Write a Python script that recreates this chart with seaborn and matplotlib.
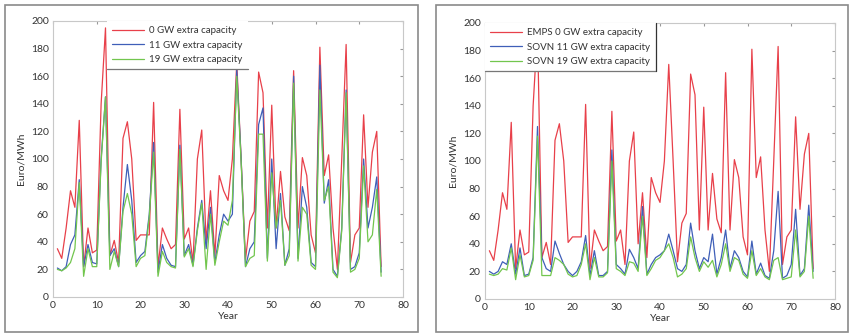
import numpy as np
import pandas as pd
import seaborn as sns
import matplotlib.pyplot as plt
from matplotlib.patches import Rectangle
from matplotlib.lines import Line2D

sns.set_style("white")
plt.rcParams['font.family'] = ['Lato', 'DejaVu Sans']

years = list(range(1, 76))

emps_0gw = [35, 28, 50, 77, 65, 128, 22, 50, 32, 34, 140, 195, 30, 41, 25,
            115, 127, 100, 41, 45, 45, 45, 141, 22, 50, 42, 35, 38, 136, 42,
            50, 25, 100, 121, 40, 77, 30, 88, 77, 70, 100, 170, 100, 27, 55,
            62, 163, 148, 50, 139, 50, 91, 58, 48, 164, 50, 101, 88, 45, 32,
            181, 88, 103, 50, 20, 100, 183, 25, 45, 50, 132, 65, 105, 120, 22]

left_11gw = [21, 19, 22, 38, 45, 85, 22, 38, 25, 24, 100, 145, 30, 35, 22,
             65, 96, 70, 25, 30, 33, 60, 112, 18, 38, 28, 23, 22, 110, 30,
             38, 23, 50, 70, 35, 65, 25, 45, 60, 55, 60, 165, 100, 22, 35,
             40, 125, 137, 28, 100, 35, 75, 23, 35, 160, 28, 80, 65, 25, 22,
             168, 68, 85, 20, 15, 50, 150, 20, 22, 32, 100, 50, 65, 87, 18]

left_19gw = [20, 19, 21, 25, 35, 83, 15, 35, 22, 22, 98, 145, 20, 33, 22,
             62, 75, 60, 22, 28, 30, 58, 105, 15, 33, 25, 22, 21, 107, 29,
             35, 22, 48, 68, 20, 60, 23, 40, 55, 52, 70, 160, 98, 22, 28,
             30, 118, 118, 26, 90, 50, 70, 23, 30, 155, 26, 65, 60, 23, 20,
             150, 70, 80, 18, 14, 48, 148, 18, 20, 28, 95, 40, 45, 78, 15]

right_11gw = [20, 18, 20, 27, 25, 40, 18, 37, 17, 18, 30, 125, 30, 22, 20,
              42, 33, 25, 20, 17, 20, 27, 46, 17, 35, 17, 17, 20, 108, 25,
              22, 18, 36, 30, 22, 67, 18, 25, 30, 32, 35, 47, 35, 22, 20,
              25, 55, 35, 22, 30, 27, 47, 18, 30, 50, 22, 35, 30, 20, 16,
              42, 18, 26, 17, 15, 35, 78, 15, 17, 25, 65, 17, 22, 68, 20]

right_19gw = [18, 17, 18, 22, 21, 37, 14, 32, 16, 17, 28, 118, 17, 17, 17,
              30, 28, 25, 18, 16, 17, 25, 40, 14, 30, 16, 16, 19, 100, 22,
              20, 17, 27, 26, 20, 60, 17, 22, 28, 30, 35, 40, 30, 16, 18,
              22, 45, 30, 20, 27, 23, 28, 16, 25, 40, 20, 30, 28, 18, 15,
              35, 17, 22, 16, 14, 28, 30, 14, 15, 16, 50, 16, 20, 60, 15]

left_labels = ["0 GW extra capacity", "11 GW extra capacity", "19 GW extra capacity"]
right_labels = ["EMPS 0 GW extra capacity", "SOVN 11 GW extra capacity", "SOVN 19 GW extra capacity"]
colors = ["#e8404a", "#3f5fb8", "#72c64e"]


def long_df(labels, series):
    rows = []
    for lab, vals in zip(labels, series):
        rows.append(pd.DataFrame({"Year": years, "Euro/MWh": vals, "series": lab}))
    return pd.concat(rows, ignore_index=True)


fig = plt.figure(figsize=(8.52, 3.33), dpi=100)

# panel frames
fig.add_artist(Rectangle((5 / 852, 1 / 333), 413 / 852, 327 / 333, transform=fig.transFigure,
                         fill=False, edgecolor="#8a8a8a", linewidth=1.2))
fig.add_artist(Rectangle((436 / 852, 1 / 333), 412 / 852, 327 / 333, transform=fig.transFigure,
                         fill=False, edgecolor="#8a8a8a", linewidth=1.2))

ax1 = fig.add_axes([53 / 852, 1 - 297 / 333, 350 / 852, 276 / 333])
ax2 = fig.add_axes([485 / 852, 1 - 299 / 333, 350 / 852, 276 / 333])

panels = [
    (ax1, left_labels, [emps_0gw, left_11gw, left_19gw], (0.154, 1.0), False),
    (ax2, right_labels, [emps_0gw, right_11gw, right_19gw], (0.0, 1.0), True),
]

legends = []
for ax, labels, series, anchor, right_edge in panels:
    df = long_df(labels, series)
    sns.lineplot(data=df, x="Year", y="Euro/MWh", hue="series",
                 palette=dict(zip(labels, colors)), linewidth=0.9,
                 ax=ax, legend=True)
    ax.set_xlim(0, 80)
    ax.set_ylim(0, 200)
    ax.set_xticks(range(0, 81, 10))
    ax.set_yticks(range(0, 201, 20))
    ax.tick_params(labelsize=7.5, length=2, color="#999999", direction="in",
                   right=True, top=True, pad=3, labelcolor="#333333")
    for s in ax.spines.values():
        s.set_color("#c8c8c8")
        s.set_linewidth(0.8)
    ax.set_xlabel("Year", fontsize=7.5, labelpad=1, color="#333333")
    ax.set_ylabel("Euro/MWh", fontsize=7.5, labelpad=4, color="#333333")
    leg = ax.legend(loc="upper left", bbox_to_anchor=anchor, fontsize=7,
                    frameon=True, fancybox=False, framealpha=1,
                    handlelength=3.3, handletextpad=0.5, borderpad=0.55,
                    labelspacing=0.55, borderaxespad=0)
    leg.get_frame().set_edgecolor("none")
    leg.get_frame().set_facecolor("white")
    leg.set_zorder(10)
    for t in leg.get_texts():
        t.set_color("#333333")
    legends.append((leg, right_edge))

# legend edges: only bottom (and right on the second panel) are drawn
fig.canvas.draw()
inv = fig.transFigure.inverted()
for leg, right_edge in legends:
    bb = leg.get_frame().get_window_extent()
    (x0, y0), (x1, y1) = inv.transform([[bb.x0, bb.y0], [bb.x1, bb.y1]])
    fig.add_artist(Line2D([x0, x1], [y0, y0], color="#777777", linewidth=0.9,
                          transform=fig.transFigure, zorder=20))
    if right_edge:
        fig.add_artist(Line2D([x1, x1], [y0, y1], color="#333333", linewidth=0.9,
                              transform=fig.transFigure, zorder=20))

fig.savefig("out.png", dpi=100)
